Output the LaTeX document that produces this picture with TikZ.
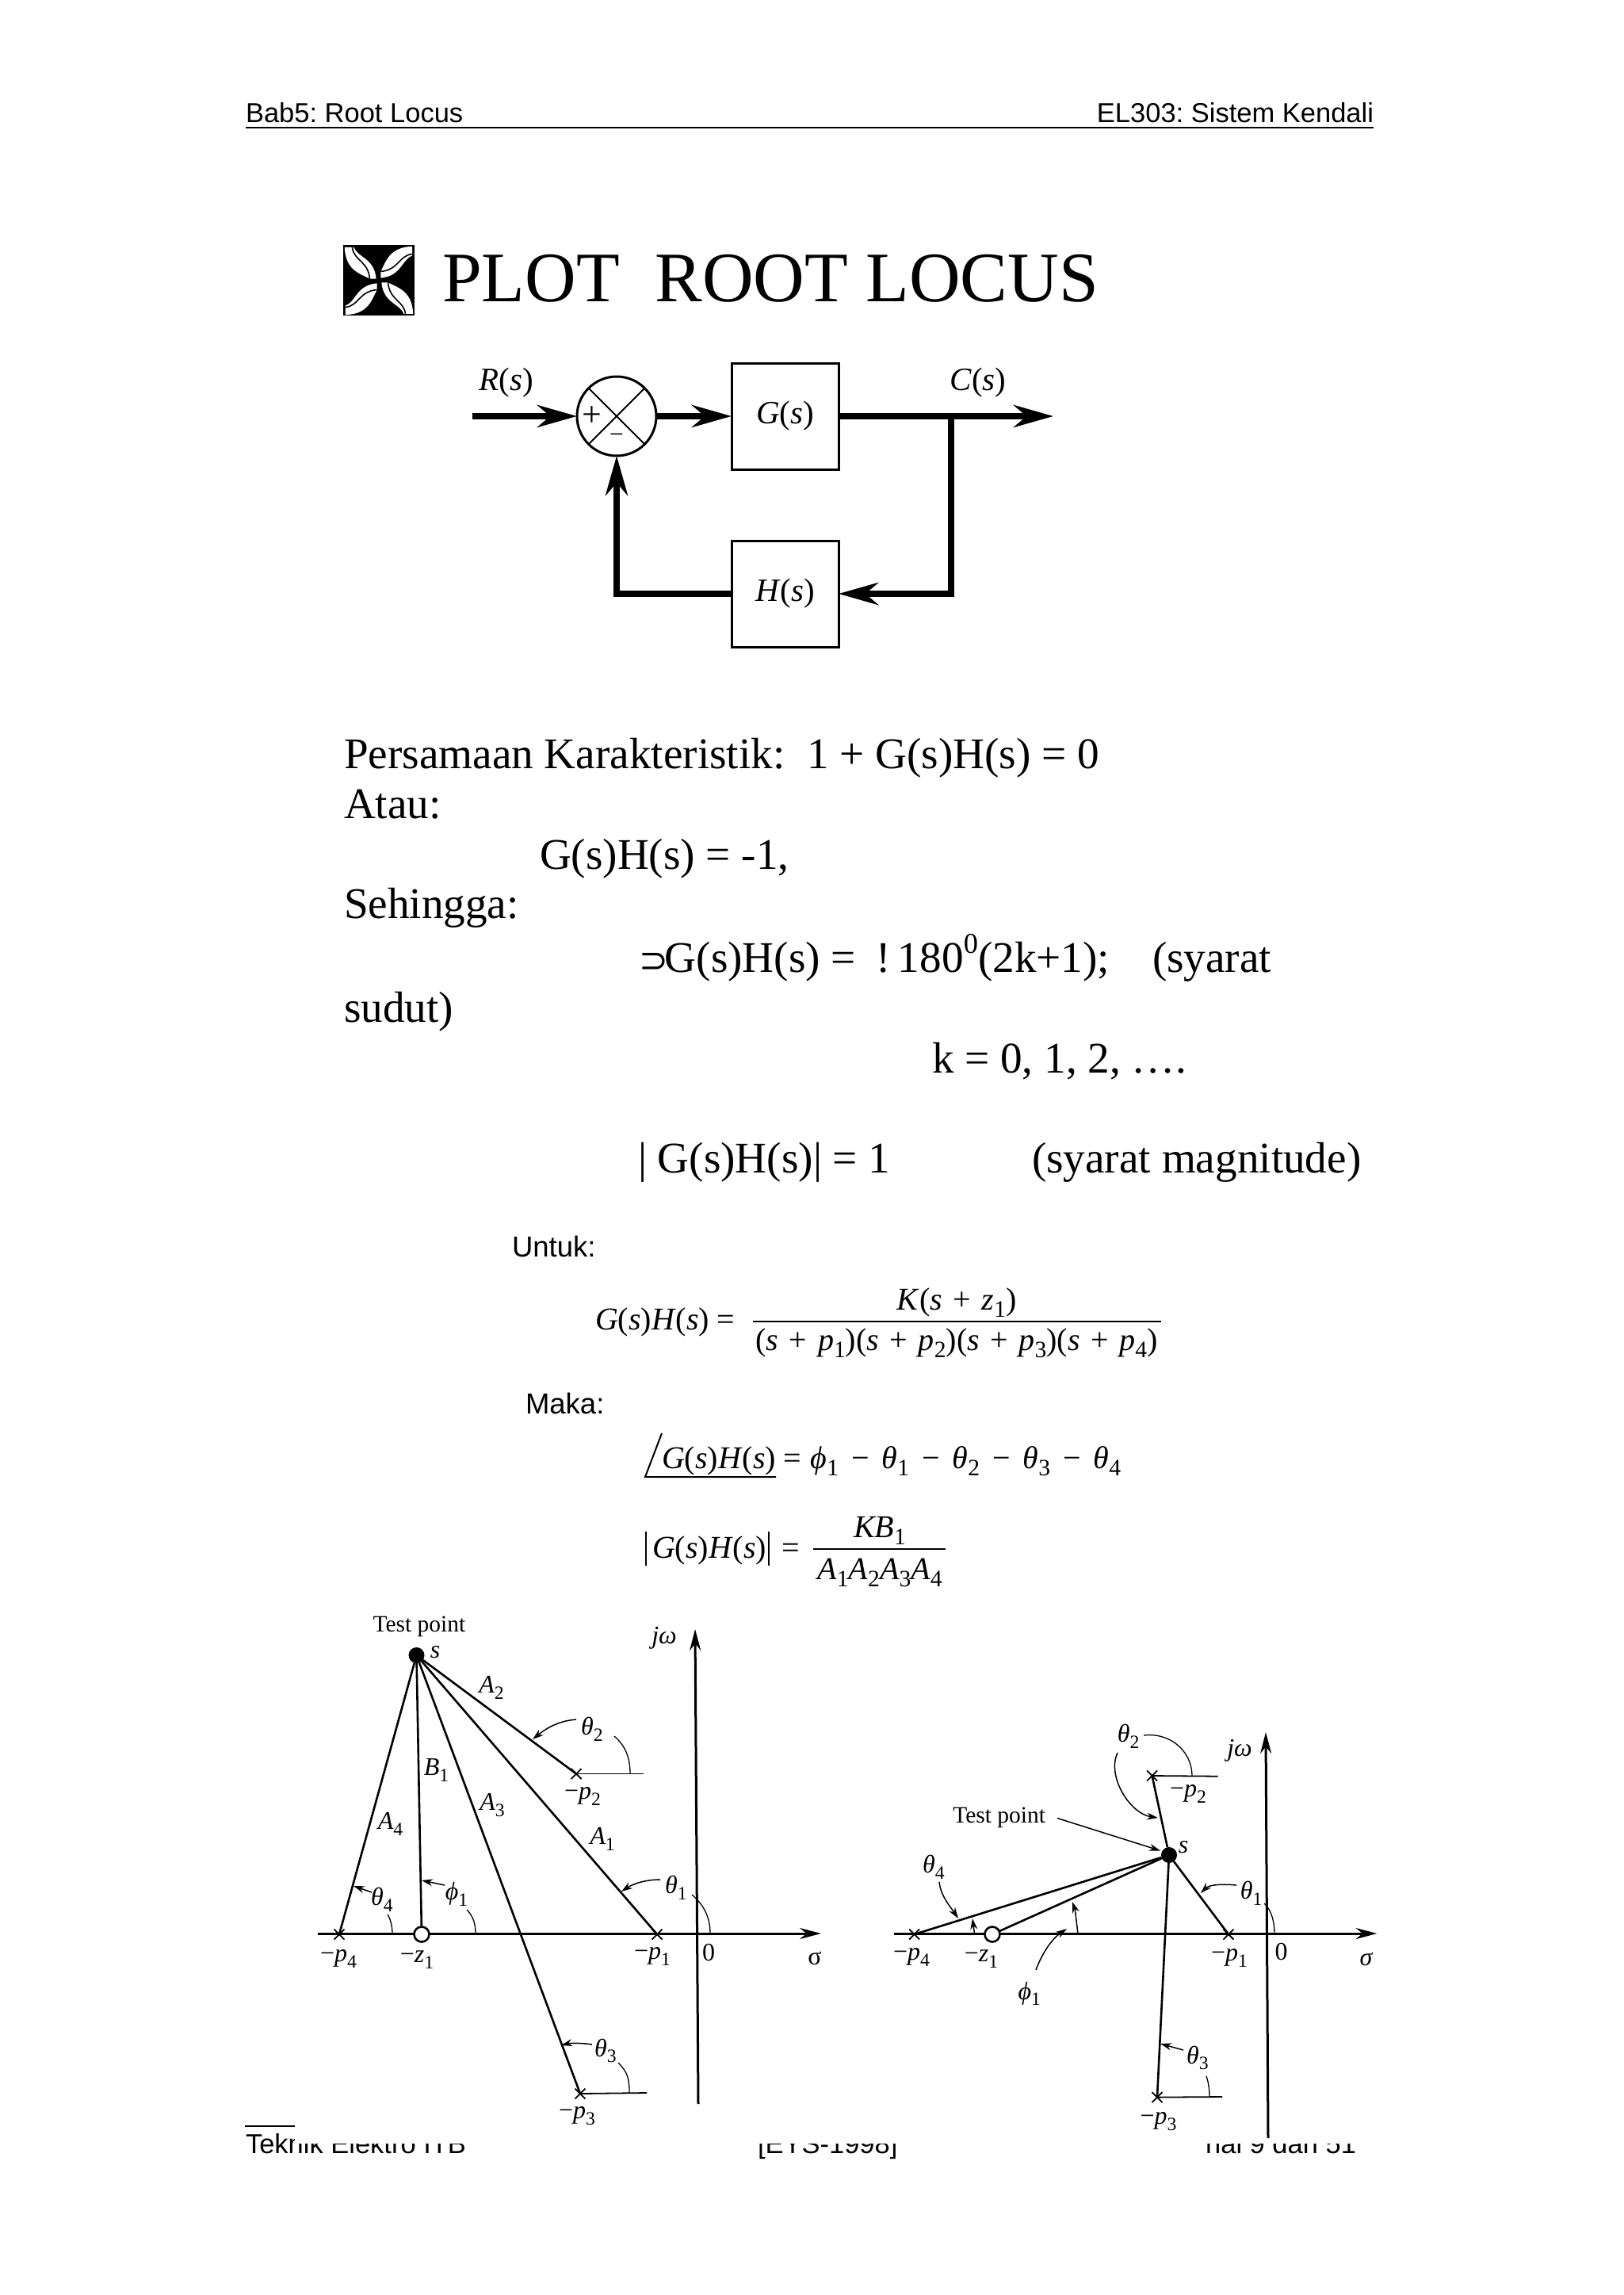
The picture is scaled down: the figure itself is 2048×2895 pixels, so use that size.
\documentclass[tikz,border=0pt]{standalone}
\usepackage{fontspec}
\setmainfont{Liberation Serif}
\newfontfamily\arialfont{Liberation Sans}
\newfontfamily\dejavufont{DejaVu Sans}
\usetikzlibrary{positioning,shapes.misc,arrows.meta}
\frenchspacing
\newcommand{\subs}[1]{\raisebox{-.24em}{\scalebox{.74}{#1}}}
\newcommand{\plusop}{\hspace{.34em}+\hspace{.34em}}
\newcommand{\minop}{\hspace{.4em}−\hspace{.4em}}
\newcommand{\petal}[1]{%
    \begin{scope}[shift={(478,354)},rotate=#1,scale=.96]
        \fill[white] (-45,-44) -- (-33,-44) .. controls (-28,-30) and (-6,-30) .. (-3.5,-2.5) -- (-12,-2.5) .. controls (-24,-9) and (-44,-13) .. cycle;
        \draw[black,line width=1.6pt] (-35,-44) .. controls (-33,-26) and (-14,-26) .. (-12,-2.5);
    \end{scope}}
\begin{document}
\begin{tikzpicture}[x=1pt,y=-1pt,
    every node/.style={inner sep=0pt, outer sep=0pt},
    headtext/.style={font=\arialfont\fontsize{34.5}{40}\selectfont},
    notetext/.style={font=\arialfont\fontsize{36.5}{40}\selectfont},
    maintext/.style={anchor=base west, font=\fontsize{55.2}{60}\selectfont},
    eqtext/.style={font=\fontsize{40}{44}\selectfont},
    blocktext/.style={font=\fontsize{41}{44}\selectfont},
    testtext/.style={font=\fontsize{29.5}{32}\selectfont},
    loctext/.style={font=\fontsize{32}{36}\selectfont},
    block/.style={draw, line width=3pt, minimum width=135pt, minimum height=134pt, font=\fontsize{41}{44}\selectfont},
    sumnode/.style={circle, draw, line width=3pt, minimum size=100pt},
    thickline/.style={line width=8pt, -{Stealth[length=50pt,width=28pt]}},
    rayline/.style={line width=2.6pt},
    axisline/.style={line width=3pt, -{Stealth[length=27pt,width=14pt]}},
    refline/.style={line width=1.8pt},
    arcline/.style={line width=1.3pt},
    leader/.style={line width=1.5pt, -{Stealth[length=14pt,width=9pt]}},
    pole/.style={cross out, draw, line width=1.8pt, minimum size=13pt},
    zero/.style={circle, draw, fill=white, line width=2.6pt, minimum size=19pt},
    testdot/.style={circle, fill=black, minimum size=20pt}]

    \useasboundingbox (0,0) rectangle (2048,2895);

    % page head
    \node[headtext, anchor=base west] (headl) at (310,155) {Bab5: Root Locus};
    \node[headtext, anchor=base east] (headr) at (1733,155) {EL303: Sistem Kendali};
    \coordinate (rulea) at (310,161);
    \coordinate (ruleb) at (1733,161);
    \draw[line width=2.5pt] (rulea) -- (ruleb);

    % page foot, partly hidden by the pasted figure
    \node[headtext, anchor=base west] (footl) at (310,2716) {Teknik Elektro ITB};
    \node[headtext, anchor=base west] (footm) at (956,2716) {[EYS-1998]};
    \node[headtext, anchor=base east] (footr) at (1711,2716) {hal 9 dari 51};
    \coordinate (foota) at (309,2682);
    \coordinate (footb) at (372,2682);
    \draw[line width=2.5pt] (foota) -- (footb);
    \fill[white] (372,2600) rectangle (1800,2704);

    % title
    \fill[black] (433,309) rectangle (523,398);
    \petal{0}
    \petal{90}
    \petal{180}
    \petal{270}
    \node[anchor=base west, font=\fontsize{89.5}{96}\selectfont] (title) at (558,380) {PLOT\ \ ROOT LOCUS};

    % block diagram
    \node[sumnode] (sumc) at (778,525) {};
    \node[block, right=95pt of sumc] (gblock) {\emph{G}(\emph{s})};
    \node[block, below=90pt of gblock] (hblock) {\emph{H}(\emph{s})};
    \coordinate[left=132pt of sumc] (rin);
    \coordinate[right=271pt of gblock] (cout);
    \coordinate[right=142pt of gblock] (cbranch);
    \node[blocktext] (rlabel) at (639,483) {\emph{R}(\emph{s})};
    \node[blocktext] (clabel) at (1234,483) {\emph{C}(\emph{s})};
    \node[font=\fontsize{44}{46}\selectfont] (plus) at (747,525) {+};
    \node[font=\fontsize{32}{34}\selectfont] (minus) at (778,553) {−};

    \draw[line width=1.8pt] (sumc.45) -- (sumc.225);
    \draw[line width=1.8pt] (sumc.135) -- (sumc.315);
    \draw[thickline] (rin) -- (sumc);
    \draw[thickline] (sumc) -- (gblock);
    \draw[thickline] (gblock) -- (cout);
    \draw[thickline] (cbranch) |- (hblock);
    \draw[thickline] (hblock) -| (sumc);

    % main text
    \node[maintext] (line1) at (434,969) {Persamaan Karakteristik:\ \ 1 + G(s)H(s) = 0};
    \node[maintext] (line2) at (434,1032) {Atau:};
    \node[maintext] (line3) at (681,1096) {G(s)H(s) = -1,};
    \node[maintext] (line4) at (434,1158) {Sehingga:};
    \node[maintext] (line5) at (806,1226) {{\dejavufont\fontsize{44}{50}\selectfont ⊃}\hspace{-4pt}G(s)H(s) = \hspace{12pt}! \hspace{-5pt}180\raisebox{.42em}{\scalebox{.66}{0}}(2k+1);};
    \node[maintext] (line5b) at (1454,1226) {(syarat};
    \node[maintext] (line6) at (434,1289) {sudut)};
    \node[maintext] (line7) at (1176,1353) {k = 0, 1, 2, ….};
    \node[maintext] (line8) at (805,1479) {| G(s)H(s)| = 1};
    \node[maintext] (line8b) at (1302,1479) {(syarat magnitude)};

    % formulas
    \node[notetext, anchor=base west] (untuk) at (646,1585) {Untuk:};
    \node[eqtext, anchor=base west] (ghlhs) at (751,1677) {\emph{G}(\emph{s})\emph{H}(\emph{s}) =};
    \coordinate (fraca) at (950,1667);
    \coordinate (fracb) at (1465,1667);
    \draw[line width=2.5pt] (fraca) -- (fracb);
    \node[eqtext, anchor=base] (ghnum) at (1207,1652) {\emph{K}(\emph{s}\plusop\emph{z}\subs{1})};
    \node[eqtext, anchor=base] (ghden) at (1207,1703) {(\emph{s}\plusop\emph{p}\subs{1})(\emph{s}\plusop\emph{p}\subs{2})(\emph{s}\plusop\emph{p}\subs{3})(\emph{s}\plusop\emph{p}\subs{4})};

    \node[notetext, anchor=base west] (maka) at (663,1783) {Maka:};
    \node[eqtext, anchor=base west] (anglhs) at (835,1852) {\emph{G}(\emph{s})\emph{H}(\emph{s})};
    \node[eqtext, anchor=base west] (angrhs) at (988,1852) {=\hspace{.3em}\emph{ϕ}\subs{1}\minop\emph{θ}\subs{1}\minop\emph{θ}\subs{2}\minop\emph{θ}\subs{3}\minop\emph{θ}\subs{4}};
    \coordinate (anga) at (835,1808);
    \coordinate (angb) at (814,1863);
    \coordinate (angc) at (979,1863);
    \draw[line width=2pt] (anga) -- (angb) -- (angc);

    \node[eqtext, anchor=base west] (maglhs) at (823,1965) {\emph{G}(\emph{s})\emph{H}(\emph{s})};
    \node[eqtext, anchor=base west] (mageq) at (986,1965) {=};
    \coordinate (mara) at (815,1932);
    \coordinate (marb) at (815,1975);
    \coordinate (marc) at (970,1932);
    \coordinate (mard) at (970,1975);
    \draw[line width=1.8pt] (mara) -- (marb);
    \draw[line width=1.8pt] (marc) -- (mard);
    \coordinate (magfa) at (1026,1954);
    \coordinate (magfb) at (1193,1954);
    \draw[line width=2.5pt] (magfa) -- (magfb);
    \node[eqtext, anchor=base] (magnum) at (1110,1939) {\emph{KB}\subs{1}};
    \node[eqtext, anchor=base] (magden) at (1110,1992) {\emph{A}\subs{1}\emph{A}\subs{2}\emph{A}\subs{3}\emph{A}\subs{4}};

    % left root locus
    \node[testdot] (sa) at (525.5,2088) {};
    \node[pole] (p1a) at (829,2440) {};
    \node[pole] (p2a) at (727,2237.5) {};
    \node[pole] (p3a) at (732,2641) {};
    \node[pole] (p4a) at (428,2440) {};
    \coordinate (sigaa) at (401,2439);
    \coordinate (sigab) at (1036,2439);
    \coordinate (jwaa) at (881,2654);
    \coordinate (jwab) at (877,2055);
    \coordinate (refa2) at (812,2237.5);
    \coordinate (refa3) at (816,2640);

    \draw[axisline] (sigaa) -- (sigab);
    \draw[axisline] (jwaa) -- (jwab);
    \draw[refline] (p2a.center) -- (refa2);
    \draw[refline] (p3a.center) -- (refa3);
    \node[zero] (z1a) at (532,2440) {};
    \draw[rayline] (sa) -- (p1a.center);
    \draw[rayline] (sa) -- (p2a.center);
    \draw[rayline] (sa) -- (p3a.center);
    \draw[rayline] (sa) -- (p4a.center);
    \draw[rayline] (sa) -- (z1a);

    \node[testtext] (testa) at (529,2052) {Test point};
    \node[loctext] (slaba) at (549,2084) {\emph{s}};
    \node[loctext] (jwlaba) at (838,2066) {\emph{jω}};
    \node[loctext] (a1lab) at (760,2320) {\emph{A}\subs{1}};
    \node[loctext] (a2lab) at (620,2129) {\emph{A}\subs{2}};
    \node[loctext] (a3lab) at (621,2277) {\emph{A}\subs{3}};
    \node[loctext] (a4lab) at (492.5,2301) {\emph{A}\subs{4}};
    \node[loctext] (b1lab) at (550.5,2233) {\emph{B}\subs{1}};
    \node[loctext] (t1laba) at (853,2381) {\emph{θ}\subs{1}};
    \node[loctext] (t2laba) at (747,2181) {\emph{θ}\subs{2}};
    \node[loctext] (t3laba) at (764,2587) {\emph{θ}\subs{3}};
    \node[loctext] (t4laba) at (482,2396) {\emph{θ}\subs{4}};
    \node[loctext] (f1laba) at (576,2389.5) {\emph{ϕ}\subs{1}};
    \node[loctext] (p1laba) at (823,2468) {−\emph{p}\subs{1}};
    \node[loctext] (p2laba) at (735,2266) {−\emph{p}\subs{2}};
    \node[loctext] (p3laba) at (728,2669) {−\emph{p}\subs{3}};
    \node[loctext] (p4laba) at (427,2471) {−\emph{p}\subs{4}};
    \node[loctext] (z1laba) at (526,2472) {−\emph{z}\subs{1}};
    \node[loctext] (zeroa) at (894,2462.5) {0};
    \node[loctext] (sigmaa) at (1028,2470) {σ};

    \coordinate (t2aa) at (727,2169);
    \coordinate (t2ab) at (672,2194);
    \coordinate (t2ac) at (775,2190);
    \coordinate (t2ad) at (795,2237);
    \draw[leader] (t2aa) .. controls +(-25,2) and +(15,-12) .. (t2ab);
    \draw[arcline] (t2ac) .. controls +(14,12) and +(0,-20) .. (t2ad);
    \coordinate (t1aa) at (833,2371);
    \coordinate (t1ab) at (784,2386);
    \coordinate (t1ac) at (873,2390);
    \coordinate (t1ad) at (896,2439);
    \draw[leader] (t1aa) .. controls +(-22,0) and +(12,-8) .. (t1ab);
    \draw[arcline] (t1ac) .. controls +(14,12) and +(0,-22) .. (t1ad);
    \coordinate (f1aa) at (561,2378);
    \coordinate (f1ab) at (532,2372);
    \coordinate (f1ac) at (589,2409);
    \coordinate (f1ad) at (600,2439);
    \draw[leader] (f1aa) -- (f1ab);
    \draw[arcline] (f1ac) .. controls +(8,8) and +(0,-12) .. (f1ad);
    \coordinate (t4aa) at (469,2387);
    \coordinate (t4ab) at (446,2379);
    \coordinate (t4ac) at (489,2415);
    \coordinate (t4ad) at (495,2439);
    \draw[leader] (t4aa) -- (t4ab);
    \draw[arcline] (t4ac) .. controls +(4,6) and +(0,-8) .. (t4ad);
    \coordinate (t3aa) at (747,2579);
    \coordinate (t3ab) at (708,2580);
    \coordinate (t3ac) at (780,2602);
    \coordinate (t3ad) at (794,2640);
    \draw[leader] (t3aa) .. controls +(-12,-2) and +(12,-3) .. (t3ab);
    \draw[arcline] (t3ac) .. controls +(12,12) and +(0,-18) .. (t3ad);

    % right root locus
    \node[testdot] (sb) at (1475,2340) {};
    \node[pole] (p1b) at (1550,2440) {};
    \node[pole] (p2b) at (1453.6,2240) {};
    \node[pole] (p3b) at (1460,2645.6) {};
    \node[pole] (p4b) at (1153.6,2440) {};
    \coordinate (sigba) at (1128,2439);
    \coordinate (sigbb) at (1737.5,2439);
    \coordinate (jwba) at (1600,2697);
    \coordinate (jwbb) at (1597,2185);
    \coordinate (refb2) at (1536.6,2240.7);
    \coordinate (refb3) at (1542,2645);

    \draw[axisline] (sigba) -- (sigbb);
    \draw[axisline] (jwba) -- (jwbb);
    \draw[refline] (p2b.center) -- (refb2);
    \draw[refline] (p3b.center) -- (refb3);
    \node[zero] (z1b) at (1252,2440) {};
    \draw[rayline] (sb) -- (p1b.center);
    \draw[rayline] (sb) -- (p2b.center);
    \draw[rayline] (sb) -- (p3b.center);
    \draw[rayline] (sb) -- (p4b.center);
    \draw[rayline] (sb) -- (z1b);

    \node[testtext] (testb) at (1260.7,2293) {Test point};
    \node[loctext] (slabb) at (1493,2330) {\emph{s}};
    \node[loctext] (jwlabb) at (1564,2208) {\emph{jω}};
    \node[loctext] (t1labb) at (1578.6,2388) {\emph{θ}\subs{1}};
    \node[loctext] (t2labb) at (1423.6,2190) {\emph{θ}\subs{2}};
    \node[loctext] (t3labb) at (1511,2596) {\emph{θ}\subs{3}};
    \node[loctext] (t4labb) at (1178,2355) {\emph{θ}\subs{4}};
    \node[loctext] (f1labb) at (1298.7,2515) {\emph{ϕ}\subs{1}};
    \node[loctext] (p1labb) at (1551,2470) {−\emph{p}\subs{1}};
    \node[loctext] (p2labb) at (1499,2263) {−\emph{p}\subs{2}};
    \node[loctext] (p3labb) at (1461.6,2676) {−\emph{p}\subs{3}};
    \node[loctext] (p4labb) at (1150,2469) {−\emph{p}\subs{4}};
    \node[loctext] (z1labb) at (1238,2471) {−\emph{z}\subs{1}};
    \node[loctext] (zerob) at (1616.5,2462) {0};
    \node[loctext] (sigmab) at (1724,2471) {\emph{σ}};

    \coordinate (testba) at (1334,2293.5);
    \coordinate (testbb) at (1464,2334.5);
    \draw[leader] (testba) -- (testbb);
    \coordinate (t2ba) at (1410,2211);
    \coordinate (t2bb) at (1461,2293);
    \coordinate (t2bc) at (1443,2189);
    \coordinate (t2bd) at (1504,2241);
    \draw[leader] (t2ba) .. controls +(-14,30) and +(-35,-5) .. (t2bb);
    \draw[arcline] (t2bc) .. controls +(30,-4) and +(0,-35) .. (t2bd);
    \coordinate (t1ba) at (1560,2378);
    \coordinate (t1bb) at (1515,2388);
    \coordinate (t1bc) at (1595,2401);
    \coordinate (t1bd) at (1608,2439);
    \draw[leader] (t1ba) .. controls +(-22,-2) and +(10,-10) .. (t1bb);
    \draw[arcline] (t1bc) .. controls +(9,8) and +(0,-15) .. (t1bd);
    \coordinate (t4ba) at (1185,2374);
    \coordinate (t4bb) at (1209,2420);
    \coordinate (t4bc) at (1229.5,2439);
    \coordinate (t4bd) at (1227,2420);
    \draw[leader] (t4ba) .. controls +(2,18) and +(-10,-15) .. (t4bb);
    \draw[leader] (t4bc) -- (t4bd);
    \coordinate (f1ba) at (1307,2485);
    \coordinate (f1bb) at (1346,2433);
    \coordinate (f1bc) at (1360,2439);
    \coordinate (f1bd) at (1353,2399);
    \draw[leader] (f1ba) .. controls +(8,-22) and +(-18,12) .. (f1bb);
    \draw[leader] (f1bc) .. controls +(-2,-15) and +(4,12) .. (f1bd);
    \coordinate (t3ba) at (1493,2586);
    \coordinate (t3bb) at (1464,2578);
    \coordinate (t3bc) at (1522,2619);
    \coordinate (t3bd) at (1526,2645);
    \draw[leader] (t3ba) -- (t3bb);
    \draw[arcline] (t3bc) .. controls +(3,8) and +(0,-8) .. (t3bd);
\end{tikzpicture}
\end{document}
